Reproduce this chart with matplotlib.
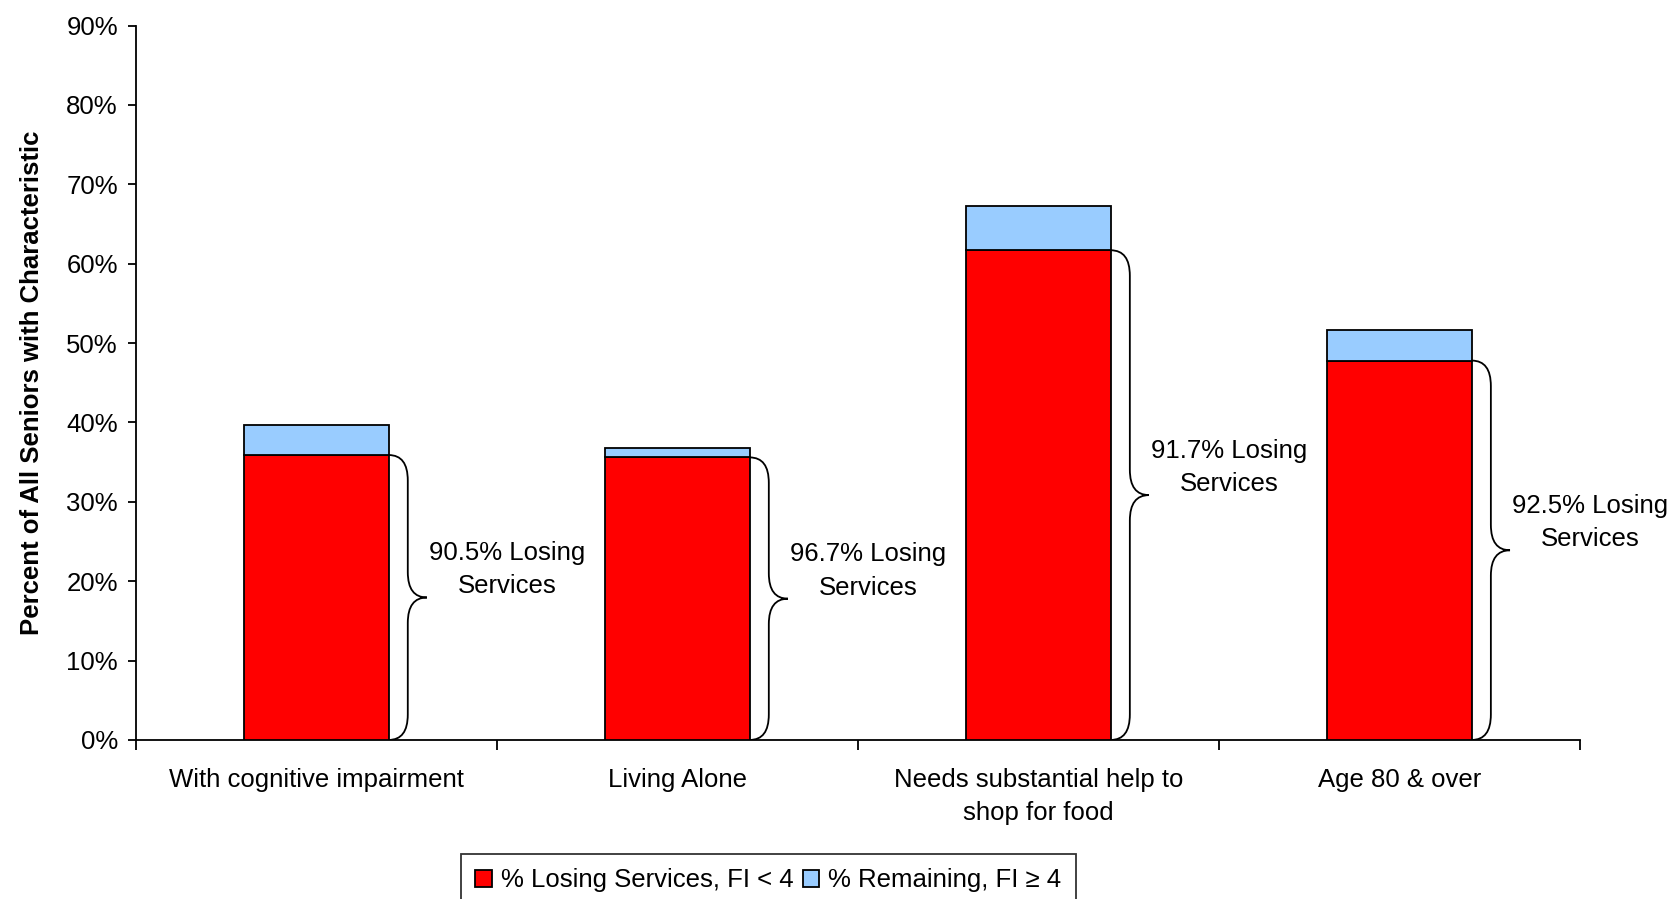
import matplotlib.pyplot as plt
from matplotlib.path import Path
from matplotlib.patches import PathPatch
import numpy as np

plt.rcParams['font.family'] = ['Liberation Sans', 'DejaVu Sans']

# Data
categories = ['With cognitive impairment', 'Living Alone',
              'Needs substantial help to\nshop for food', 'Age 80 & over']
losing = [35.9, 35.6, 61.7, 47.8]      # % Losing Services, FI < 4
remaining = [3.8, 1.2, 5.6, 3.8]       # % Remaining, FI >= 4
brace_labels = ['90.5% Losing\nServices', '96.7% Losing\nServices',
                '91.7% Losing\nServices', '92.5% Losing\nServices']

red = '#FF0000'
blue = '#99CCFF'
bar_w = 0.4
fs = 18.5

fig = plt.figure(figsize=(16.72, 8.99), dpi=100)
ax = fig.add_axes([0.0813, 0.1769, 0.8637, 0.7946])

x = np.arange(len(categories))
ax.bar(x, losing, width=bar_w, color=red, edgecolor='black', linewidth=1.3,
       label='% Losing Services, FI < 4', zorder=3)
ax.bar(x, remaining, width=bar_w, bottom=losing, color=blue, edgecolor='black',
       linewidth=1.3, label='% Remaining, FI \u2265 4', zorder=3)


def brace(ax, x0, ytop, w=0.053, r=3.2):
    # curly brace from (x0, ytop) down to (x0, 0), pointing right
    ymid = ytop / 2.0
    verts = [(x0, ytop), (x0 + w, ytop), (x0 + w, ytop - r),
             (x0 + w, ymid + r),
             (x0 + w, ymid), (x0 + 2 * w, ymid),
             (x0 + w, ymid), (x0 + w, ymid - r),
             (x0 + w, r),
             (x0 + w, 0), (x0, 0)]
    codes = [Path.MOVETO, Path.CURVE3, Path.CURVE3,
             Path.LINETO,
             Path.CURVE3, Path.CURVE3,
             Path.CURVE3, Path.CURVE3,
             Path.LINETO,
             Path.CURVE3, Path.CURVE3]
    ax.add_patch(PathPatch(Path(verts, codes), fill=False, lw=1.3,
                           edgecolor='black', zorder=4))


for i in range(len(categories)):
    brace(ax, x[i] + bar_w / 2, losing[i])
    ax.text(x[i] + 0.528, losing[i] / 2 + 3.5, brace_labels[i], ha='center',
            va='center', fontsize=fs, linespacing=1.5)

ax.set_xlim(-0.5, 3.5)
ax.set_ylim(0, 90)
ax.set_yticks(np.arange(0, 91, 10))
ax.set_yticklabels([f'{v}%' for v in range(0, 91, 10)])
ax.tick_params(axis='y', labelsize=fs, length=6, width=1.3, direction='out', pad=7)

ax.set_xticks(x)
ax.set_xticklabels(categories, fontsize=fs, linespacing=1.5)
ax.tick_params(axis='x', which='major', length=0, pad=20)
ax.set_xticks(np.arange(-0.5, 3.6, 1.0), minor=True)
ax.tick_params(axis='x', which='minor', length=7, width=1.3, direction='out')

for s in ['top', 'right']:
    ax.spines[s].set_visible(False)
for s in ['left', 'bottom']:
    ax.spines[s].set_linewidth(1.3)

ax.set_ylabel('Percent of All Seniors with Characteristic', fontsize=fs,
              fontweight='bold', labelpad=16)

leg = fig.legend(loc='upper center', bbox_to_anchor=(0.4596, 0.05), ncol=2,
                 fontsize=fs, frameon=True, fancybox=False, edgecolor='black',
                 handlelength=0.65, handleheight=0.65, handletextpad=0.35,
                 columnspacing=0.35, borderpad=0.55, borderaxespad=0)
leg.get_frame().set_linewidth(1.3)

fig.savefig('out.png', dpi=100, facecolor='white')
